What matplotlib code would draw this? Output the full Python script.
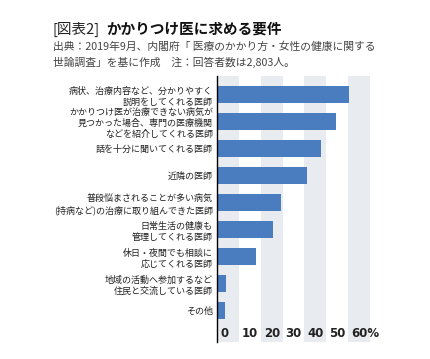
import matplotlib
matplotlib.use('Agg')
import matplotlib.pyplot as plt
import matplotlib.transforms as mtransforms
import numpy as np

plt.rcParams['font.family'] = ['Noto Sans CJK JP', 'DejaVu Sans']

# data (%)
labels = [
    '病状、治療内容など、分かりやすく\n説明をしてくれる医師',
    'かかりつけ医が治療できない病気が\n見つかった場合、専門の医療機関\nなどを紹介してくれる医師',
    '話を十分に聞いてくれる医師',
    '近隣の医師',
    '普段悩まされることが多い病気\n(持病など)の治療に取り組んできた医師',
    '日常生活の健康も\n管理してくれる医師',
    '休日・夜間でも相談に\n応じてくれる医師',
    '地域の活動へ参加するなど\n住民と交流している医師',
    'その他',
]
values = [60.4, 54.5, 47.5, 41.0, 29.3, 25.5, 17.8, 4.0, 3.5]
xticks = [0, 10, 20, 30, 40, 50, 60]
xticklabels = ['0', '10', '20', '30', '40', '50', '60%']

bar_color = '#4a7dc0'
band_color = '#e8ecf0'

fig = plt.figure(figsize=(4.30, 3.59), dpi=100)
ax = fig.add_axes([0.5047, 0.0474, 0.3558, 0.7409])

y_pos = np.arange(len(labels))
for start in np.arange(0, 70, 20):
    ax.axvspan(start, start + 10, color=band_color, lw=0, zorder=0)
ax.barh(y_pos, values, height=0.62, color=bar_color, zorder=2)

ax.set_xlim(0, 70)
ax.set_ylim(9.16, -0.69)
ax.set_yticks(y_pos)
ax.set_yticklabels(labels, fontsize=6.5, color='#222222', linespacing=1.3)
ax.tick_params(axis='y', length=0, pad=3)

ax.set_xticks(xticks)
ax.set_xticklabels(xticklabels, fontsize=8.5, fontweight='bold', color='#222222',
                   family=['DejaVu Sans'])
ax.tick_params(axis='x', length=0, pad=-11)
offset = mtransforms.ScaledTranslation(3 / 100, 0, fig.dpi_scale_trans)
for lab in ax.get_xticklabels():
    lab.set_horizontalalignment('left')
    lab.set_transform(lab.get_transform() + offset)

for side in ['top', 'right', 'bottom']:
    ax.spines[side].set_visible(False)
ax.spines['left'].set_color('black')
ax.spines['left'].set_linewidth(1)
ax.spines['left'].set_zorder(3)

fig.text(53 / 430, 1 - 29 / 359, '[図表2]', fontsize=10.5, color='#222222',
         va='center', ha='left')
fig.text(106 / 430, 1 - 29 / 359, 'かかりつけ医に求める要件', fontsize=10.5,
         fontweight='bold', color='#111111', va='center', ha='left')
fig.text(53 / 430, 1 - 47 / 359, '出典：2019年9月、内閣府「 医療のかかり方・女性の健康に関する',
         fontsize=7.75, color='#444444', va='center', ha='left')
fig.text(53 / 430, 1 - 62 / 359, '世論調査」を基に作成　注：回答者数は2,803人。',
         fontsize=7.75, color='#444444', va='center', ha='left')

fig.savefig('out.png', dpi=100)
